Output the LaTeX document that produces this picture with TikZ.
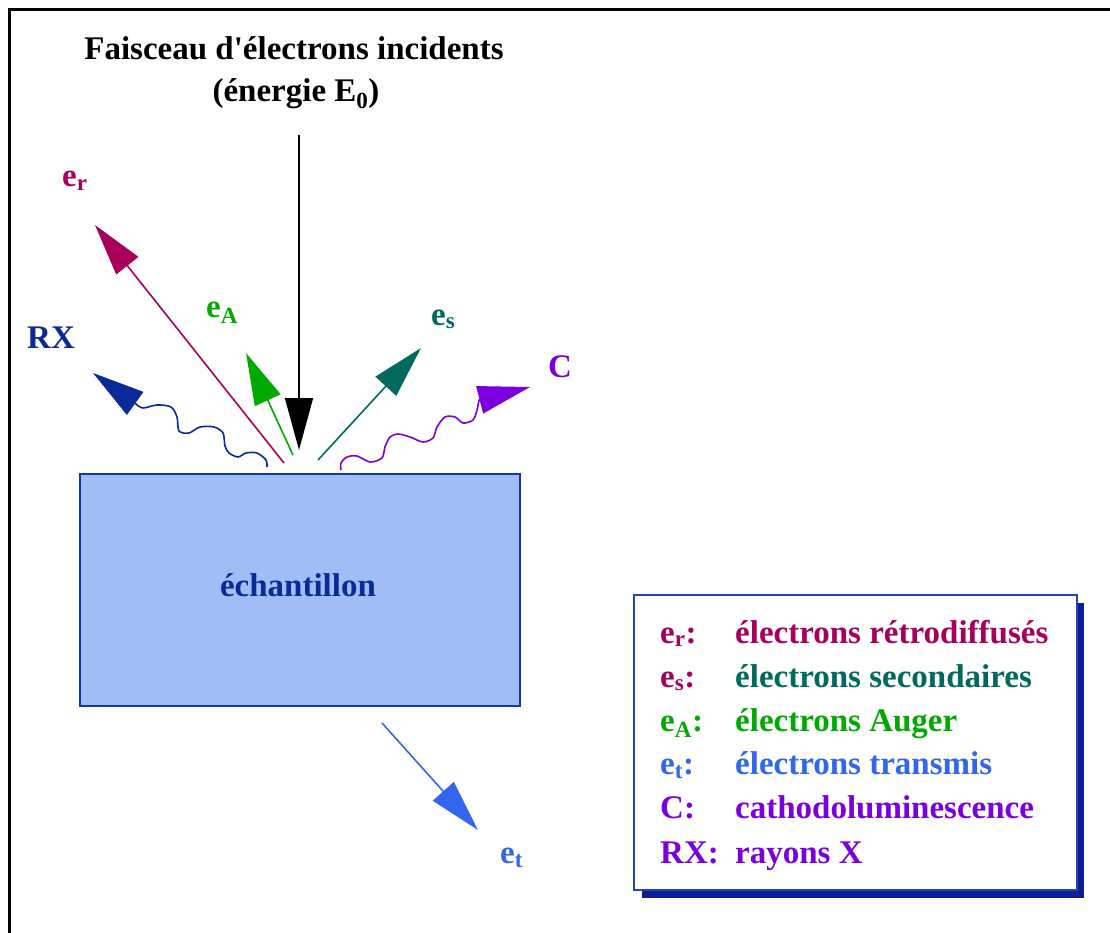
\documentclass[tikz,border=0pt]{standalone}
\usepackage{fontspec}
\setmainfont{Liberation Serif}[Ligatures=TeXOff]
\usetikzlibrary{arrows.meta}
\definecolor{cer}{HTML}{A8005A}
\definecolor{ces}{HTML}{006A5E}
\definecolor{cea}{HTML}{00AA00}
\definecolor{cet}{HTML}{3366EE}
\definecolor{ccl}{HTML}{7A00DD}
\definecolor{crx}{HTML}{0A2A9A}
\definecolor{boxfill}{HTML}{A0BEF5}
\definecolor{boxline}{HTML}{1535A5}
\definecolor{legline}{HTML}{2545B5}
\definecolor{legshadow}{HTML}{0A1E96}
\begin{document}
\begin{tikzpicture}[x=1pt,y=-1pt,
  txt/.style={font=\fontsize{33}{39}\selectfont\bfseries, inner sep=0pt, anchor=base west},
  ctxt/.style={font=\fontsize{33}{39}\selectfont\bfseries, inner sep=0pt, anchor=base},
  shaft/.style={line width=1.6pt},
  headarrow/.style={-{Triangle[length=52pt,width=28pt]}},
  wave/.style={line width=1.6pt, line join=round}]
\useasboundingbox (0,0) rectangle (1110,933);
% frame
\draw[line width=3pt] (1110,9.5) -- (9.5,9.5) -- (9.5,933);

% title
\node[ctxt] (title) at (294,60) {Faisceau d'électrons incidents};
\node[ctxt] (energy) at (296,102) {(énergie E\textsubscript{0})};

% sample
\node[draw=boxline, fill=boxfill, line width=2pt, minimum width=440pt, minimum height=232pt, inner sep=0pt] (sample) at (300,590) {};
\node[ctxt, text=crx] (samplelabel) at (298,596) {échantillon};

% incident beam
\coordinate (inTop) at (299,135);
\coordinate (inTip) at (299,450);
\draw[shaft, black, headarrow] (inTop) -- (inTip);

% backscattered electrons
\coordinate (erStart) at (284,463);
\coordinate (erTip) at (95,225);
\draw[shaft, cer, headarrow] (erStart) -- (erTip);
\node[txt, text=cer] (erlabel) at (62,187) {e\textsubscript{r}};

% Auger electrons
\coordinate (eaStart) at (293,455);
\coordinate (eaTip) at (246,353);
\draw[shaft, cea, headarrow] (eaStart) -- (eaTip);
\node[txt, text=cea] (ealabel) at (206,317) {e\textsubscript{A}};

% secondary electrons
\coordinate (esStart) at (318,460);
\coordinate (esTip) at (421,348);
\draw[shaft, ces, headarrow] (esStart) -- (esTip);
\node[txt, text=ces] (eslabel) at (431,325) {e\textsubscript{s}};

% X rays
\coordinate (rxTip) at (93,373);
\draw[wave, crx, headarrow] plot[smooth, tension=0.5] coordinates {
 (267,467) (266,460) (257,453) (246,453) (238,457) (229,453) (225,446)
 (223,433) (214,427) (200,427) (189,433) (179,431) (177,417) (171,407)
 (157,405) (143,408) (136,404)} -- (rxTip);
\node[txt, text=crx] (rxlabel) at (27,348) {RX};

% cathodoluminescence
\coordinate (cTip) at (530,387);
\draw[wave, ccl, headarrow] plot[smooth, tension=0.5] coordinates {
 (341,470) (341,463) (347,457) (357,456) (370,462) (382,458) (385,447)
 (390,437) (398,434) (410,437) (423,442) (433,438) (437,427) (445,417)
 (455,417) (463,423) (473,420) (477,410) (479,400)} -- (cTip);
\node[txt, text=ccl] (clabel) at (548,377) {C};

% transmitted electrons
\coordinate (etStart) at (382,723);
\coordinate (etTip) at (478,830);
\draw[shaft, cet, headarrow] (etStart) -- (etTip);
\node[txt, text=cet] (etlabel) at (500,863) {e\textsubscript{t}};

% legend
\fill[legshadow] (642,603) rectangle (1084,898);
\draw[legline, fill=white, line width=1.5pt] (634,595) rectangle (1077,890);
\node[txt, text=cer] (l1a) at (660,643) {e\textsubscript{r}:};
\node[txt, text=cer] (l1b) at (735,643) {électrons rétrodiffusés};
\node[txt, text=cer] (l2a) at (660,687) {e\textsubscript{s}:};
\node[txt, text=ces] (l2b) at (735,687) {électrons secondaires};
\node[txt, text=cea] (l3a) at (660,731) {e\textsubscript{A}:};
\node[txt, text=cea] (l3b) at (735,731) {électrons Auger};
\node[txt, text=cet] (l4a) at (660,774) {e\textsubscript{t}:};
\node[txt, text=cet] (l4b) at (735,774) {électrons transmis};
\node[txt, text=ccl] (l5a) at (660,818) {C:};
\node[txt, text=ccl] (l5b) at (735,818) {cathodoluminescence};
\node[txt, text=ccl] (l6a) at (660,863) {RX:};
\node[txt, text=ccl] (l6b) at (735,863) {rayons X};
\end{tikzpicture}
\end{document}
